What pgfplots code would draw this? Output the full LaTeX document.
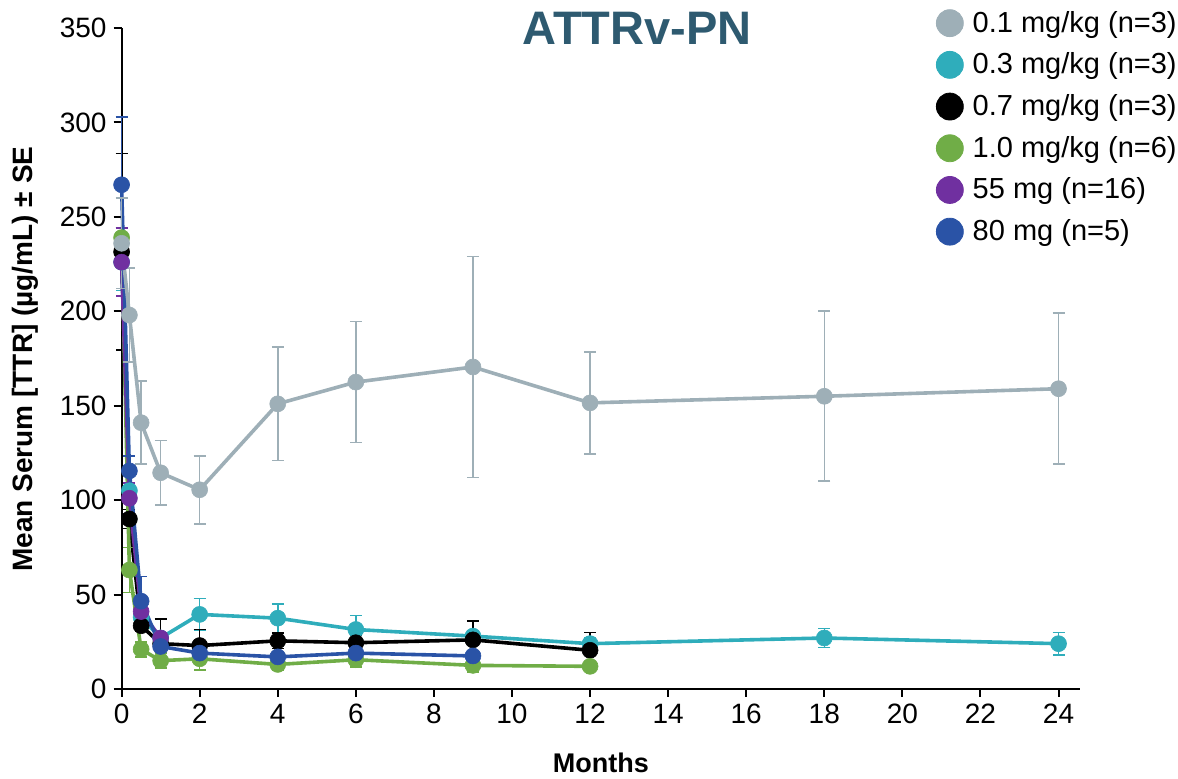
\documentclass[border=0pt]{standalone}
\usepackage{fontspec}
\setmainfont{Liberation Sans}
\usepackage{pgfplots}
\pgfplotsset{compat=1.18}
\definecolor{cGray}{HTML}{9EAFB7}
\definecolor{cCyan}{HTML}{2FADBB}
\definecolor{cBlack}{HTML}{000000}
\definecolor{cGreen}{HTML}{70AD47}
\definecolor{cPurple}{HTML}{7030A0}
\definecolor{cBlue}{HTML}{2A53A6}
\definecolor{cTitle}{HTML}{2E5A70}

\pgfplotsset{
  ser/.style={color=#1, line width=1.8pt, mark=*, mark size=4pt,
    mark options={line width=0.3pt}, forget plot,
    error bars/.cd, y dir=both, y explicit,
    error bar style={line width=0.8pt},
    error mark options={rotate=90, line width=0.8pt, mark size=3pt}},
}

% x = months, y = mean TTR, e = SE
\pgfplotstableread{
x y e
0 236 24
0.2 198 25
0.5 141 22
1 114.5 17
2 105.5 18
4 151 30
6 162.5 32
9 170.5 58.5
12 151.5 27
18 155 45
24 159 40
}\gray
\pgfplotstableread{
x y e
0 226 15
0.2 105 10
0.5 38 4
1 27 3
2 39.5 8.5
4 37.5 7.5
6 31.5 7.5
9 28 3
12 24 3
18 27 5
24 24 6
}\cyan
\pgfplotstableread{
x y e
0 231.5 52
0.2 90 5
0.5 33.5 3
1 24 13
2 23 8.5
4 25.5 4
6 24.5 4
9 26 10
12 20.5 9.5
}\black
\pgfplotstableread{
x y e
0 239 5
0.2 63 12
0.5 21 4
1 15 4
2 16 6
4 13 3
6 15.5 4
9 12.5 3.5
12 12 2
}\green
\pgfplotstableread{
x y e
0 226 18
0.2 101 8
0.5 41 3
1 27 3
}\purple
\pgfplotstableread{
x y e
0 267 36
0.2 115.5 8
0.5 46.5 13
1 22.5 2
2 19 2
4 17 2
6 19 2
9 17.5 2
}\blue

\begin{document}
\begin{tikzpicture}
\useasboundingbox (-60.8pt,-45pt) rectangle (528.2pt,344.5pt);
\begin{axis}[
  scale only axis, width=479.2pt, height=330.5pt,
  at={(0,0)}, anchor=south west,
  xmin=0, xmax=24.55, ymin=0, ymax=350,
  axis lines=left, axis line style={-, line width=1pt},
  xtick={0,2,...,24}, ytick={0,50,...,350},
  tick align=outside, major tick length=4pt,
  tick style={line width=1pt, black},
  tick label style={font=\fontsize{14}{16}\selectfont},
  /pgf/number format/assume math mode=true,
  xlabel={\bfseries Months},
  ylabel={\bfseries Mean Serum [TTR] (µg/mL) ± SE},
  xlabel style={font=\fontsize{13.5}{16}\selectfont, at={(axis description cs:0.5,-0.112)}, anchor=center},
  ylabel style={font=\fontsize{14}{16}\selectfont, at={(axis description cs:-0.1,0.499)}, anchor=center},
  clip=false,
  legend cell align=left,
  legend image code/.code={\fill[#1] (6.75pt,0pt) circle (6.75pt); \path (18pt,0pt);},
  legend style={at={(axis description cs:0.843,1.035)}, anchor=north west,
    draw=none, fill=none, font=\fontsize{14.5}{16}\selectfont,
    row sep=6.95pt, nodes={inner xsep=0pt, inner ysep=0pt}},
]
\addlegendimage{color=cGray}\addlegendentry{0.1 mg/kg (n=3)}
\addlegendimage{color=cCyan}\addlegendentry{0.3 mg/kg (n=3)}
\addlegendimage{color=cBlack}\addlegendentry{0.7 mg/kg (n=3)}
\addlegendimage{color=cGreen}\addlegendentry{1.0 mg/kg (n=6)}
\addlegendimage{color=cPurple}\addlegendentry{55 mg (n=16)}
\addlegendimage{color=cBlue}\addlegendentry{80 mg (n=5)}

\addplot[ser=cCyan] table[x=x, y=y, y error=e] {\cyan};
\addplot[ser=cBlack] table[x=x, y=y, y error=e] {\black};
\addplot[ser=cGreen] table[x=x, y=y, y error=e] {\green};
\addplot[ser=cPurple] table[x=x, y=y, y error=e] {\purple};
\addplot[ser=cBlue] table[x=x, y=y, y error=e] {\blue};
\addplot[ser=cGray] table[x=x, y=y, y error=e] {\gray};

\node[font=\bfseries\fontsize{23.5}{28}\selectfont, text=cTitle] at (rel axis cs:0.538,1) {ATTRv-PN};
\end{axis}
\end{tikzpicture}
\end{document}
